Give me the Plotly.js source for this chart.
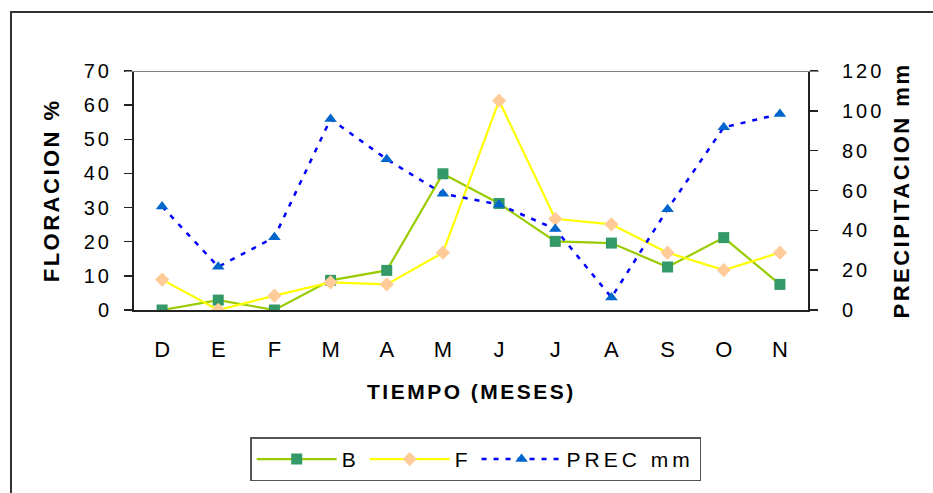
<!DOCTYPE html>
<html>
<head>
<meta charset="utf-8">
<script src="https://cdn.plot.ly/plotly-3.0.1.min.js"></script>
<style>
  html, body { margin: 0; padding: 0; background: #fff; overflow: hidden; }
  #frame { position: absolute; left: 10px; top: 11px; width: 1000px; height: 600px;
           border-left: 2px solid #333; border-top: 2px solid #333; }
  #chart { position: absolute; left: 0; top: 0; width: 933px; height: 493px; }
  .ytick text, .y2tick text { letter-spacing: 3px; }
  .annotation-text { letter-spacing: 2.5px; }
  .legendtext { letter-spacing: 4px; }
</style>
</head>
<body>
<div id="frame"></div>
<div id="chart"></div>
<script>
// Months (December to November)
const months = ['D', 'E', 'F', 'M', 'A', 'M', 'J', 'J', 'A', 'S', 'O', 'N'];
// Flowering (%)
const floracionB = [0, 2.9, 0, 8.7, 11.6, 39.9, 31.2, 20.1, 19.6, 12.6, 21.2, 7.5];
const floracionF = [8.9, 0, 4.2, 8.1, 7.5, 16.8, 61.3, 26.7, 25.1, 16.8, 11.7, 16.8];
// Monthly rainfall (mm)
const precMm = [52, 21.7, 36.5, 95.9, 75.7, 58.4, 52.9, 40.7, 6.3, 50.6, 91.7, 98.4];

const xIdx = months.map((_, i) => i);

const traces = [
  {
    name: 'B', x: xIdx, y: floracionB, type: 'scatter', mode: 'lines+markers',
    line: { color: '#99CC00', width: 2.2 },
    marker: { symbol: 'square', size: 11, color: '#339966' },
    xaxis: 'x', yaxis: 'y'
  },
  {
    name: 'F', x: xIdx, y: floracionF, type: 'scatter', mode: 'lines+markers',
    line: { color: '#FFFF00', width: 2.2 },
    marker: { symbol: 'diamond', size: 11, color: '#FFCC99' },
    xaxis: 'x', yaxis: 'y'
  },
  {
    name: 'PREC mm', x: xIdx, y: precMm, type: 'scatter', mode: 'lines+markers',
    line: { color: '#0000FF', width: 2.5, dash: '5px,7px' },
    marker: { symbol: 'triangle-up', size: 11, color: '#0066CC' },
    xaxis: 'x', yaxis: 'y2'
  }
];

const tickFont = { family: 'Liberation Sans, Arial, sans-serif', size: 20, color: '#000' };
const axisLine = '#222';
const boundaryTicks = [-0.5, 0.5, 1.5, 2.5, 3.5, 4.5, 5.5, 6.5, 7.5, 8.5, 9.5, 10.5, 11.5];

const layout = {
  width: 933, height: 493,
  margin: { l: 134, r: 125, t: 71, b: 179, pad: 0 },
  paper_bgcolor: 'rgba(0,0,0,0)',
  plot_bgcolor: 'rgba(0,0,0,0)',
  showlegend: true,
  xaxis: {
    range: [-0.5, 11.5], tickmode: 'array', tickvals: xIdx, ticktext: months,
    ticks: '', showgrid: false, zeroline: false,
    showline: true, linecolor: axisLine, linewidth: 2,
    tickfont: { family: 'Liberation Sans Narrow, Arial Narrow, Liberation Sans, Arial, sans-serif', size: 22, color: '#000' },
    ticklabelstandoff: 19
  },
  // boundary ticks crossing the category axis
  xaxis2: {
    overlaying: 'x', anchor: 'y', side: 'bottom', range: [-0.5, 11.5],
    tickmode: 'array', tickvals: boundaryTicks,
    ticks: 'outside', ticklen: 7, tickwidth: 1.5, tickcolor: axisLine,
    showticklabels: false, showgrid: false, zeroline: false, showline: false
  },
  xaxis3: {
    overlaying: 'x', anchor: 'y', side: 'bottom', range: [-0.5, 11.5],
    tickmode: 'array', tickvals: boundaryTicks,
    ticks: 'inside', ticklen: 10, tickwidth: 1.5, tickcolor: axisLine,
    showticklabels: false, showgrid: false, zeroline: false, showline: false
  },
  yaxis: {
    range: [0, 70], dtick: 10, tick0: 0,
    ticks: 'outside', ticklen: 8, tickwidth: 1.5, tickcolor: axisLine,
    showgrid: false, zeroline: false, showline: true, linecolor: axisLine, linewidth: 2,
    tickfont: tickFont, ticklabelstandoff: 8
  },
  yaxis3: {
    overlaying: 'y', side: 'left', anchor: 'x', range: [0, 70], dtick: 10,
    ticks: 'inside', ticklen: 10, tickwidth: 1.5, tickcolor: axisLine,
    showticklabels: false, showgrid: false, zeroline: false, showline: false
  },
  yaxis2: {
    overlaying: 'y', side: 'right', anchor: 'x', range: [0, 120], dtick: 20, tick0: 0,
    ticks: 'outside', ticklen: 8, tickwidth: 1.5, tickcolor: axisLine,
    showgrid: false, zeroline: false, showline: true, linecolor: axisLine, linewidth: 2,
    tickfont: tickFont, ticklabelstandoff: 20
  },
  yaxis4: {
    overlaying: 'y', side: 'right', anchor: 'x', range: [0, 120], dtick: 20,
    ticks: 'inside', ticklen: 10, tickwidth: 1.5, tickcolor: axisLine,
    showticklabels: false, showgrid: false, zeroline: false, showline: false
  },
  shapes: [
    // top gridline at the maximum of both scales
    { type: 'line', xref: 'paper', yref: 'y', x0: -0.013, x1: 1.016, y0: 70, y1: 70,
      line: { color: '#808080', width: 2 } }
  ],
  annotations: [
    { text: '<b>FLORACION %</b>', xref: 'paper', yref: 'paper', x: -0.122, y: 0.5,
      textangle: -90, showarrow: false, xanchor: 'center', yanchor: 'middle',
      font: { family: 'Liberation Sans, Arial, sans-serif', size: 22, color: '#000' } },
    { text: '<b>PRECIPITACION mm</b>', xref: 'paper', yref: 'paper', x: 1.138, y: 0.5,
      textangle: -90, showarrow: false, xanchor: 'center', yanchor: 'middle',
      font: { family: 'Liberation Sans, Arial, sans-serif', size: 22, color: '#000' } },
    { text: '<b>TIEMPO (MESES)</b>', xref: 'paper', yref: 'paper', x: 0.5, y: -0.339,
      showarrow: false, xanchor: 'center', yanchor: 'middle',
      font: { family: 'Liberation Sans Narrow, Arial Narrow, Liberation Sans, Arial, sans-serif', size: 21, color: '#000' } }
  ],
  legend: {
    orientation: 'h', x: 0.507, xanchor: 'center', y: -0.533, yanchor: 'top',
    bordercolor: '#555', borderwidth: 1.5, bgcolor: '#fff',
    itemwidth: 80, traceorder: 'normal',
    font: { family: 'Liberation Sans, Arial, sans-serif', size: 21, color: '#000' }
  }
};

Plotly.newPlot('chart', traces, layout, { displayModeBar: false, staticPlot: true });
</script>
</body>
</html>
